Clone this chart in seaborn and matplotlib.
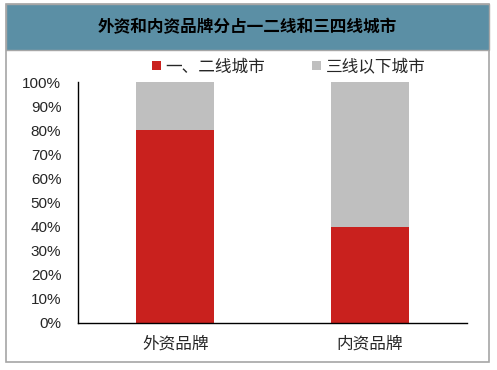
import matplotlib
matplotlib.use("Agg")
import matplotlib.pyplot as plt
import matplotlib.patches as patches
import seaborn as sns
import pandas as pd

# data
brands = ["外资品牌", "内资品牌"]
tier12 = [80, 40]
tier3_below = [20, 60]
y_ticks = [0, 10, 20, 30, 40, 50, 60, 70, 80, 90, 100]

sns.set_style("white")
plt.rcParams["font.family"] = ["Noto Sans CJK SC", "DejaVu Sans"]

df = pd.DataFrame({"brand": brands, "tier12": tier12, "tier3": tier3_below})
df["total"] = df["tier12"] + df["tier3"]

fig = plt.figure(figsize=(4.97, 3.70), dpi=100)
W, H = 497, 370

# outer border and title bar
fig.patches.append(patches.Rectangle((6 / W, 1 - 362 / H), 483 / W, 358 / H,
                                     transform=fig.transFigure, fill=False,
                                     edgecolor="#A6A6A6", linewidth=1.2))
fig.patches.append(patches.Rectangle((6 / W, 1 - 50 / H), 483 / W, 46 / H,
                                     transform=fig.transFigure, facecolor="#5B8FA5",
                                     edgecolor="#A6A6A6", linewidth=1.0))
fig.text(247 / W, 1 - 27 / H, "外资和内资品牌分占一二线和三四线城市", ha="center", va="center",
         fontsize=12, fontweight="bold", color="black")

ax = fig.add_axes([78 / W, 1 - 323 / H, 389 / W, 241 / H])

sns.barplot(data=df, x="brand", y="total", color="#BFBFBF", width=0.4,
            saturation=1, linewidth=0, ax=ax, label="三线以下城市")
sns.barplot(data=df, x="brand", y="tier12", color="#C9211E", width=0.4,
            saturation=1, linewidth=0, ax=ax, label="一、二线城市")

ax.set_ylim(0, 100)
ax.set_xlim(-0.5, 1.5)
ax.set_yticks(y_ticks)
ax.set_yticklabels([f"{v}%" for v in y_ticks], family=["Liberation Sans"], fontsize=11)
ax.set_xticks(range(len(brands)))
ax.set_xticklabels(brands, fontsize=12)
ax.set_xticks([0.5, 1.5], minor=True)
ax.tick_params(axis="x", which="major", length=0, pad=9)
ax.tick_params(axis="x", which="minor", direction="in", length=4, width=1, color="black")
ax.tick_params(axis="y", direction="out", length=3, width=1, color="black", pad=9)
ax.set_xlabel("")
ax.set_ylabel("")

for side in ["top", "right"]:
    ax.spines[side].set_visible(False)
for side in ["left", "bottom"]:
    ax.spines[side].set_color("black")
    ax.spines[side].set_linewidth(1)

handles, labels = ax.get_legend_handles_labels()
order = [labels.index("一、二线城市"), labels.index("三线以下城市")]
ax.legend([handles[i] for i in order], [labels[i] for i in order],
          loc="center", bbox_to_anchor=(0.542, 1.062), ncol=2, frameon=False,
          fontsize=12, handlelength=0.5, handleheight=0.5, columnspacing=2.8,
          handletextpad=0.3, borderpad=0, borderaxespad=0)

fig.savefig("out.png", dpi=100)
